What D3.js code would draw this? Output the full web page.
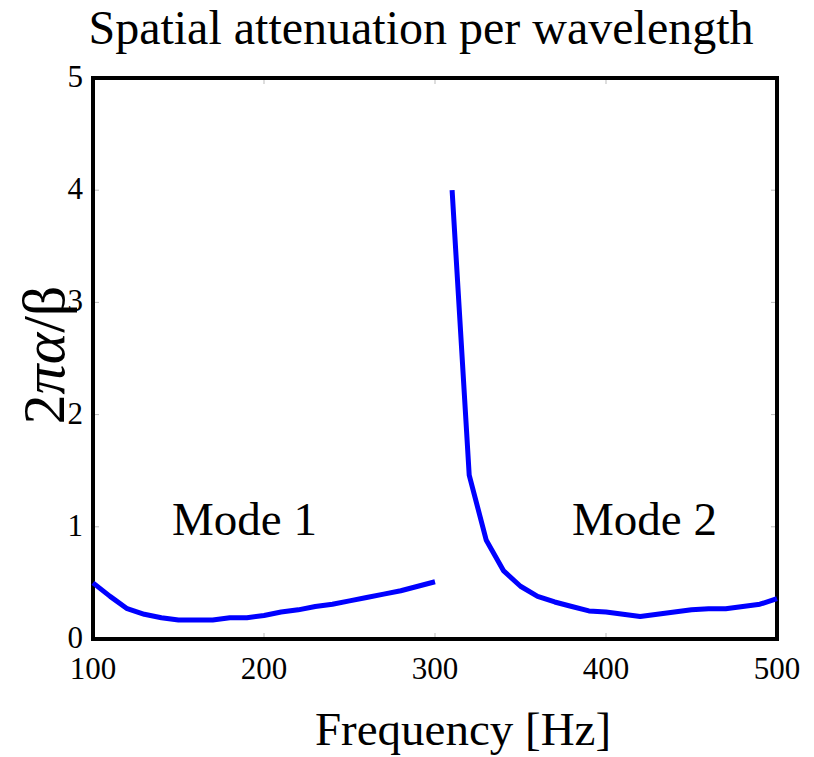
<!DOCTYPE html>
<html>
<head>
<meta charset="utf-8">
<script src="https://cdn.jsdelivr.net/npm/d3@7"></script>
<style>
  body { margin: 0; background: #fff; }
  text { font-family: "Liberation Serif", "Times New Roman", serif; fill: #000; }
</style>
</head>
<body>
<div id="chart"></div>
<script>
var svgWidth = 814;
var svgHeight = 757;

var margin = { top: 78, right: 37, bottom: 118, left: 93 };
var width = svgWidth - margin.left - margin.right;
var height = svgHeight - margin.top - margin.bottom;

// data
var mode1Freq = [100, 110, 120, 130, 140, 150, 160, 170, 180, 190, 200,
                 210, 220, 230, 240, 250, 260, 270, 280, 290, 300];
var mode1Atten = [0.50, 0.38, 0.27, 0.22, 0.19, 0.17, 0.17, 0.17, 0.19, 0.19, 0.21,
                  0.24, 0.26, 0.29, 0.31, 0.34, 0.37, 0.40, 0.43, 0.47, 0.51];
var mode2Freq = [310, 320, 330, 340, 350, 360, 370, 380, 390, 400, 410,
                 420, 430, 440, 450, 460, 470, 480, 490, 500];
var mode2Atten = [4.00, 1.46, 0.88, 0.61, 0.47, 0.38, 0.33, 0.29, 0.25, 0.24, 0.22,
                  0.20, 0.22, 0.24, 0.26, 0.27, 0.27, 0.29, 0.31, 0.36];
var xTicks = [100, 200, 300, 400, 500];
var yTicks = [0, 1, 2, 3, 4, 5];

var svg = d3.select("#chart")
    .append("svg")
    .attr("width", svgWidth)
    .attr("height", svgHeight);

var chartGroup = svg.append("g")
    .attr("transform", `translate(${margin.left}, ${margin.top})`);

var xScale = d3.scaleLinear().domain([100, 500]).range([0, width]);
var yScale = d3.scaleLinear().domain([0, 5]).range([height, 0]);

// small grey inner ticks on all four sides
var innerX = xTicks.slice(1, -1);
var innerY = yTicks.slice(1, -1);
var tickLen = 6;
chartGroup.selectAll(".tb").data(innerX).enter().append("line")
    .attr("x1", d => xScale(d)).attr("x2", d => xScale(d))
    .attr("y1", height).attr("y2", height - tickLen);
chartGroup.selectAll(".tt").data(innerX).enter().append("line")
    .attr("x1", d => xScale(d)).attr("x2", d => xScale(d))
    .attr("y1", 0).attr("y2", tickLen);
chartGroup.selectAll(".tl").data(innerY).enter().append("line")
    .attr("y1", d => yScale(d)).attr("y2", d => yScale(d))
    .attr("x1", 0).attr("x2", tickLen);
chartGroup.selectAll(".tr").data(innerY).enter().append("line")
    .attr("y1", d => yScale(d)).attr("y2", d => yScale(d))
    .attr("x1", width).attr("x2", width - tickLen);
chartGroup.selectAll("line").attr("stroke", "#bbb").attr("stroke-width", 1);

// frame
chartGroup.append("rect")
    .attr("width", width)
    .attr("height", height)
    .attr("fill", "none")
    .attr("stroke", "#000")
    .attr("stroke-width", 4);

// tick labels
chartGroup.selectAll(".xl").data(xTicks).enter().append("text")
    .attr("x", d => xScale(d))
    .attr("y", height + 40)
    .attr("text-anchor", "middle")
    .style("font-size", "31px")
    .text(d => d);

chartGroup.selectAll(".yl").data(yTicks).enter().append("text")
    .attr("x", -10)
    .attr("y", d => yScale(d) + 9)
    .attr("text-anchor", "end")
    .style("font-size", "31px")
    .text(d => d);

// lines
var line = d3.line()
    .x(d => xScale(d[0]))
    .y(d => yScale(d[1]));

[[mode1Freq, mode1Atten], [mode2Freq, mode2Atten]].forEach(function(s) {
    chartGroup.append("path")
        .datum(d3.zip(s[0], s[1]))
        .attr("d", line)
        .attr("fill", "none")
        .attr("stroke", "#0000ff")
        .attr("stroke-width", 5)
        .attr("stroke-linejoin", "round");
});

// mode labels
chartGroup.append("text")
    .attr("x", 172 - margin.left)
    .attr("y", 535 - margin.top)
    .style("font-size", "47px")
    .text("Mode 1");

chartGroup.append("text")
    .attr("x", 572 - margin.left)
    .attr("y", 535 - margin.top)
    .style("font-size", "47px")
    .text("Mode 2");

// title and axis labels
svg.append("text")
    .attr("x", 421)
    .attr("y", 44)
    .attr("text-anchor", "middle")
    .style("font-size", "48px")
    .text("Spatial attenuation per wavelength");

svg.append("text")
    .attr("x", 463)
    .attr("y", 745)
    .attr("text-anchor", "middle")
    .style("font-size", "47px")
    .text("Frequency [Hz]");

var yLabel = svg.append("text")
    .attr("transform", "translate(64, 355) rotate(-90)")
    .attr("text-anchor", "middle")
    .style("font-size", "60px");
yLabel.append("tspan").text("2");
yLabel.append("tspan").style("font-style", "italic").text("πα");
yLabel.append("tspan").text("/β");
</script>
</body>
</html>
